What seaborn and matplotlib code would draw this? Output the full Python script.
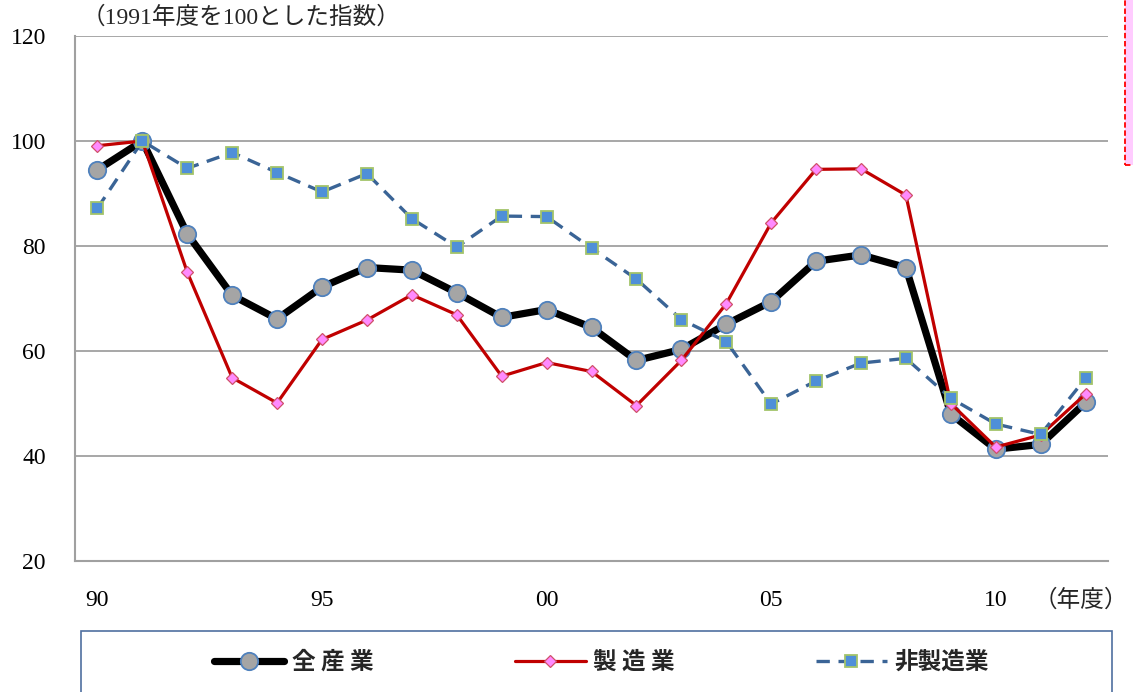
import numpy as np
import pandas as pd
import matplotlib
matplotlib.use("Agg")
import matplotlib.pyplot as plt
from matplotlib.patches import Rectangle
import seaborn as sns

# Fiscal years 1990-2012, index with FY1991 = 100
years = list(range(1990, 2013))
all_industries = [94.5, 100.0, 82.3, 70.6, 66.1, 72.2, 75.9, 75.4, 71.1, 66.4, 67.9, 64.5,
                  58.2, 60.3, 65.1, 69.4, 77.1, 78.3, 75.9, 48.0, 41.3, 42.2, 50.2]
manufacturing = [99.1, 100.0, 75.0, 54.9, 50.1, 62.2, 65.9, 70.7, 66.9, 55.2, 57.8, 56.1,
                 49.6, 58.2, 69.0, 84.4, 94.6, 94.7, 89.7, 50.0, 41.7, 44.0, 51.8]
non_manufacturing = [87.2, 100.0, 94.8, 97.8, 94.0, 90.3, 93.8, 85.2, 79.8, 85.7, 85.6, 79.6,
                     73.7, 66.0, 61.8, 49.9, 54.3, 57.7, 58.6, 51.0, 46.1, 44.1, 54.8]
series_labels = ["全 産 業", "製 造 業", "非製造業"]
x_tick_labels = ["90", "95", "00", "05", "10"]
y_ticks = [20, 40, 60, 80, 100, 120]

sns.set_theme(style="white")
serif = ["Liberation Serif", "Noto Sans CJK JP"]
cjk = ["Noto Sans CJK JP", "DejaVu Sans"]
plt.rcParams["font.family"] = serif

W, H = 1133, 692
fig = plt.figure(figsize=(W / 100, H / 100), dpi=100)
ax = fig.add_axes([75 / W, 1 - 561 / H, (1108 - 75) / W, (561 - 36) / H])

df = pd.DataFrame({
    "pos": np.arange(len(years)),
    "all": all_industries,
    "mfg": manufacturing,
    "nonmfg": non_manufacturing,
})

sns.lineplot(data=df, x="pos", y="all", ax=ax, color="black", linewidth=5.2,
             marker="o", markersize=12.5, markerfacecolor="#A5A5A5",
             markeredgecolor="#4F81BD", markeredgewidth=1.3, label=series_labels[0])
sns.lineplot(data=df, x="pos", y="mfg", ax=ax, color="#C00000", linewidth=2.3,
             marker="D", markersize=6, markerfacecolor="#FF8AFF",
             markeredgecolor="#D0506A", markeredgewidth=0.9, label=series_labels[1])
sns.lineplot(data=df, x="pos", y="nonmfg", ax=ax, color="#3A6496", linewidth=2.4,
             marker="s", markersize=8.5, markerfacecolor="#4F8FD8",
             markeredgecolor="#A3C46A", markeredgewidth=1.3, label=series_labels[2])
ax.lines[-1].set_dashes((4, 2.6))

ax.set_xlim(-0.5, len(years) - 0.5)
ax.set_ylim(20, 120)
ax.set_xlabel("")
ax.set_ylabel("")

grid_c = "#A0A0A0"
ax.set_yticks(y_ticks)
ax.set_yticklabels([str(v) for v in y_ticks])
ax.yaxis.grid(True, color=grid_c, linewidth=1.3)
ax.xaxis.grid(False)
ax.set_axisbelow(True)

ax.set_xticks([0, 5, 10, 15, 20])
ax.set_xticklabels(x_tick_labels)
ax.set_xticks(np.arange(-0.5, len(years), 1.0), minor=True)
ax.tick_params(axis="x", which="major", length=0, pad=21, labelsize=17, colors="black")
ax.tick_params(axis="x", which="minor", length=5, width=1.2, color=grid_c, direction="out")
ax.tick_params(axis="y", which="major", length=5, width=1.3, color=grid_c,
               direction="out", pad=16, labelsize=17, labelcolor="black")

for side in ["top", "right"]:
    ax.spines[side].set_visible(False)
for side in ["left", "bottom"]:
    ax.spines[side].set_color(grid_c)
    ax.spines[side].set_linewidth(1.5)

ax.get_legend().remove()

fig.text(82 / W, 1 - 18 / H, "（1991年度を100とした指数）", fontsize=17,
         family=serif, va="center", ha="left")
fig.text(1128 / W, 1 - 600 / H, "（年度）", fontsize=17, family=cjk,
         va="center", ha="right")

# Legend panel
fig.patches.append(Rectangle((81 / W, -0.05), (1112 - 81) / W, (692 - 631) / H + 0.05,
                             transform=fig.transFigure, fill=False,
                             edgecolor="#4F6FA0", linewidth=1.2))
handles, labels = ax.get_legend_handles_labels()
leg = fig.legend(handles, labels, loc="center", bbox_to_anchor=(601 / W, 1 - 662 / H),
                 ncol=3, frameon=False, handlelength=3.0, handletextpad=0.3,
                 columnspacing=6.0, prop={"family": cjk, "size": 17, "weight": "bold"})

# Pink note box at the right edge
fig.patches.append(Rectangle((1125 / W, 1 - 165 / H), 0.05, 165 / H + 0.05,
                             transform=fig.transFigure, facecolor="#FFCCFF",
                             edgecolor="#FF0000", linestyle=(0, (3, 1.5)), linewidth=1.3))

fig.savefig("out.png", dpi=100)
